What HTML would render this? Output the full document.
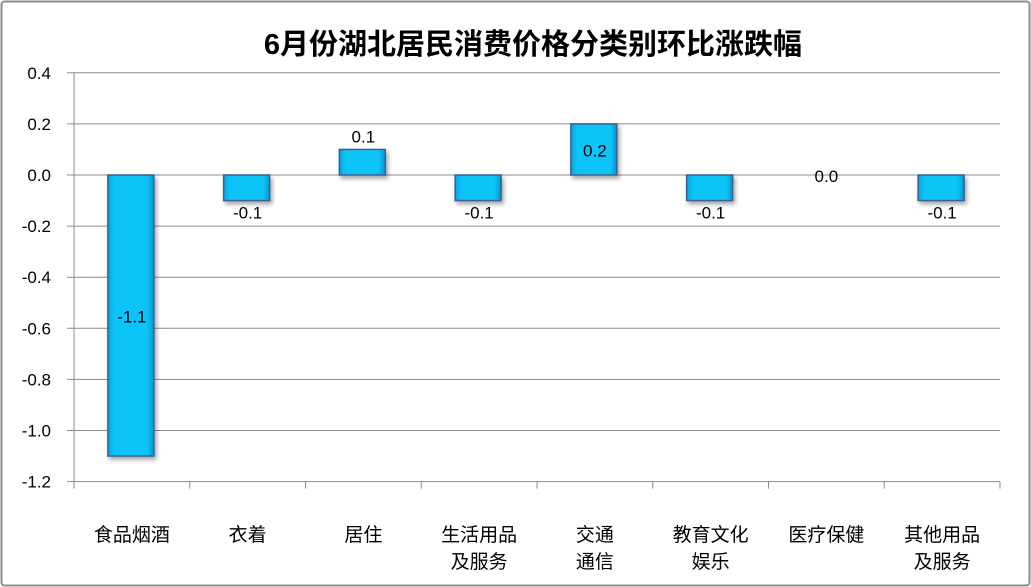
<!DOCTYPE html>
<html><head><meta charset="utf-8"><style>
html,body{margin:0;padding:0;background:#fff}
svg{display:block;font-family:"Liberation Sans","Noto Sans CJK SC",sans-serif}
</style></head><body>
<svg id="c" width="1031" height="587">
<defs>
<linearGradient id="g" x1="0" x2="1" y1="0" y2="0">
<stop offset="0" stop-color="#00a8e0"/><stop offset="0.15" stop-color="#10c4f8"/><stop offset="0.85" stop-color="#10c4f8"/><stop offset="1" stop-color="#0098d0"/>
</linearGradient>
<filter id="sh" x="-20%" y="-20%" width="150%" height="150%"><feDropShadow dx="2" dy="3" stdDeviation="2" flood-color="#000" flood-opacity="0.35"/></filter>
</defs>
<rect x="1.5" y="1.5" width="1028" height="584" rx="3" fill="#fff" stroke="#8c8c8c" stroke-width="2"/>
<text x="533" y="54" text-anchor="middle" font-size="29" font-weight="bold" fill="#000">6月份湖北居民消费价格分类别环比涨跌幅</text>
<g id="grid"></g><g id="bars"></g><g id="labels"></g>
</svg>
<script>
const categories=[["食品烟酒"],["衣着"],["居住"],["生活用品","及服务"],["交通","通信"],["教育文化","娱乐"],["医疗保健"],["其他用品","及服务"]];
const values=[-1.1,-0.1,0.1,-0.1,0.2,-0.1,0.0,-0.1];
const ticks=[0.4,0.2,0.0,-0.2,-0.4,-0.6,-0.8,-1.0,-1.2];
const ns="http://www.w3.org/2000/svg";
const X0=74,X1=1000,Y0=175,PX=255.5;
const y=v=>Y0-v*PX;
const bw=(X1-X0)/categories.length;
const xc=i=>X0+bw*(i+0.5);
function el(t,a,p){const e=document.createElementNS(ns,t);for(const k in a)e.setAttribute(k,a[k]);document.getElementById(p).appendChild(e);return e;}
ticks.forEach(t=>{
 const g=el('line',{x1:67,x2:X1,y1:y(t),y2:y(t),stroke:'#8c8c8c','stroke-width':1},'grid');
 
 
 const tx=el('text',{x:51,y:y(t)+6,'text-anchor':'end','font-size':17,fill:'#000'},'grid');
 tx.textContent=t.toFixed(1);
 
 
});
const ax=el('line',{x1:X0,x2:X0,y1:y(ticks[0]),y2:y(ticks[ticks.length-1]),stroke:'#8c8c8c'},'grid');


for(let i=0;i<=categories.length;i++){
 const tk=el('line',{x1:X0+bw*i,x2:X0+bw*i,y1:y(-1.2),y2:y(-1.2)+7,stroke:'#8c8c8c'},'grid');
 
 
}
values.forEach((v,i)=>{
 const w=46,top=Math.min(y(v),Y0),h=Math.abs(y(v)-Y0);
 if(h>0.5){
  const r=el('rect',{x:xc(i)-w/2-1,y:top,width:w,height:h,fill:'url(#g)',stroke:'#3e6090','stroke-width':1.5,filter:'url(#sh)'},'bars');
  
  
 }
 let ly;
 if(h>40) ly=top+h/2+7; else if(v>0) ly=top-7; else if(v<0) ly=Y0+h+18; else ly=Y0+7;
 const t=el('text',{x:xc(i),y:ly,'text-anchor':'middle','font-size':17,fill:'#000'},'labels');
 t.textContent=v.toFixed(1);
 
 
 categories[i].forEach((s,j)=>{
  const c=el('text',{x:xc(i),y:541+j*27,'text-anchor':'middle','font-size':19,fill:'#000'},'labels');
  c.textContent=s;
  
  
 });
});
</script>
</body></html>
